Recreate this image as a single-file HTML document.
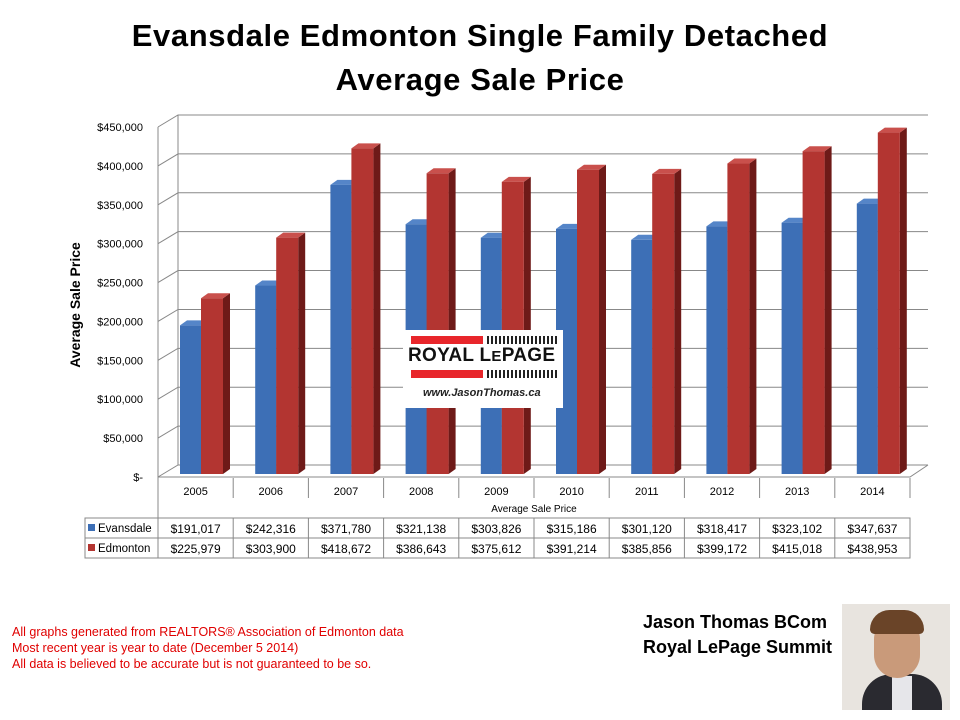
<!DOCTYPE html>
<html><head><meta charset="utf-8"><style>
body{margin:0;width:960px;height:720px;background:#fff;overflow:hidden;font-family:"Liberation Sans",sans-serif;position:relative}
.t{position:absolute;left:0;width:960px;text-align:center;font-weight:bold;font-size:31px;color:#000;letter-spacing:0.6px}
.note{position:absolute;left:12px;top:624px;color:#e00000;font-size:12.5px;line-height:16px}
.sig{position:absolute;left:643px;top:610px;font-weight:bold;font-size:18px;line-height:25px}
</style></head><body>
<div class="t" style="top:18px">Evansdale Edmonton Single Family Detached</div>
<div class="t" style="top:62px">Average Sale Price</div>
<svg id="c" width="960" height="720" style="position:absolute;left:0;top:0"></svg>
<div style="position:absolute;left:403px;top:330px;width:160px;height:78px;background:#fff;white-space:nowrap">
<div style="position:absolute;left:8px;top:6px;width:72px;height:8px;background:#e8262b"></div>
<div style="position:absolute;left:84px;top:6px;width:70px;height:8px;background:repeating-linear-gradient(90deg,#222 0 2px,#fff 2px 4px)"></div>
<div style="position:absolute;left:5px;top:15px;font-weight:bold;font-size:19px;color:#111;letter-spacing:0.3px">ROYAL L<span style="font-size:15px">E</span>PAGE</div>
<div style="position:absolute;left:8px;top:40px;width:72px;height:8px;background:#e8262b"></div>
<div style="position:absolute;left:84px;top:40px;width:70px;height:8px;background:repeating-linear-gradient(90deg,#222 0 2px,#fff 2px 4px)"></div>
<div style="position:absolute;left:20px;top:57px;font-style:italic;font-weight:bold;font-size:11px;color:#222">www.JasonThomas.ca</div>
</div>
<div class="note">All graphs generated from REALTORS® Association of Edmonton data<br>Most recent year is year to date (December 5 2014)<br>All data is believed to be accurate but is not guaranteed to be so.</div>
<div class="sig">Jason Thomas BCom<br>Royal LePage Summit</div>
<div style="position:absolute;left:842px;top:604px;width:108px;height:106px;background:#e8e4df;overflow:hidden">
<div style="position:absolute;left:20px;top:70px;width:80px;height:50px;background:#2a2a30;border-radius:30px 30px 0 0"></div>
<div style="position:absolute;left:50px;top:72px;width:20px;height:40px;background:#e6e6ea"></div>
<div style="position:absolute;left:32px;top:14px;width:46px;height:60px;background:#c99a7a;border-radius:22px 22px 24px 24px"></div>
<div style="position:absolute;left:28px;top:6px;width:54px;height:24px;background:#6a4428;border-radius:26px 26px 6px 6px"></div>
</div>
<script>
const years=["2005","2006","2007","2008","2009","2010","2011","2012","2013","2014"];
const evansdale=[191017,242316,371780,321138,303826,315186,301120,318417,323102,347637];
const edmonton=[225979,303900,418672,386643,375612,391214,385856,399172,415018,438953];
const ticks=[0,50000,100000,150000,200000,250000,300000,350000,400000,450000];
const tickLabels=["$-","$50,000","$100,000","$150,000","$200,000","$250,000","$300,000","$350,000","$400,000","$450,000"];
const svg=document.getElementById('c');const NS='http://www.w3.org/2000/svg';
function el(t,a,p){const e=document.createElementNS(NS,t);for(const k in a)e.setAttribute(k,a[k]);(p||svg).appendChild(e);return e}
const x0=158,cw=75.2,base=474,DX=20,DY=12;
const y=v=>base-v*350/450000;
const fmt=v=>'$'+v.toLocaleString('en-US');
for(let i=0;i<ticks.length;i++){const yy=y(ticks[i])+3;
 const g=el('polyline',{points:`${x0},${yy} ${x0+DX},${yy-DY} ${928},${yy-DY}`,fill:'none',stroke:'#888','stroke-width':1});
 
 const t=el('text',{x:143,y:yy+4,'text-anchor':'end','font-size':11,fill:'#000'});t.textContent=tickLabels[i];
 }
el('line',{x1:x0,y1:y(450000)+3,x2:x0,y2:520,stroke:'#888'});
el('line',{x1:x0+DX,y1:y(450000)+3-DY,x2:x0+DX,y2:y(0)+3-DY,stroke:'#888'});
el('polyline',{points:`${x0},${y(0)+3} 910,${y(0)+3} 928,${y(0)+3-DY}`,fill:'none',stroke:'#888'});
const yt=el('text',{x:0,y:0,transform:'translate(80,305) rotate(-90)','text-anchor':'middle','font-size':14,'font-weight':'bold'});yt.textContent='Average Sale Price';

function bar(xl,w,v,c,side,top){const yt=y(v);
 el('polygon',{points:`${xl+w},${yt} ${xl+w+7},${yt-5} ${xl+w+7},${base-5} ${xl+w},${base}`,fill:side});
 el('polygon',{points:`${xl},${yt} ${xl+7},${yt-5} ${xl+w+7},${yt-5} ${xl+w},${yt}`,fill:top});
 const r=el('rect',{x:xl,y:yt,width:w,height:base-yt,fill:c});return r;}
years.forEach((yr,i)=>{const cx=x0+cw*i;
 const b1=bar(cx+22,21,evansdale[i],'#3d6fb6','#274f8a','#5585c8');
 
 const b2=bar(cx+43,22,edmonton[i],'#b33531','#6e1a18','#c9504c');
 
 el('line',{x1:cx+cw,y1:478,x2:cx+cw,y2:498,stroke:'#888'});
 const t=el('text',{x:cx+cw/2,y:495,'text-anchor':'middle','font-size':11});t.textContent=yr;
 
 [evansdale,edmonton].forEach((arr,r)=>{const v=el('text',{x:cx+cw/2,y:533+r*20,'text-anchor':'middle','font-size':12});v.textContent=fmt(arr[i]);
  });
});
const at=el('text',{x:534,y:512,'text-anchor':'middle','font-size':10});at.textContent='Average Sale Price';
el('rect',{x:85,y:518,width:x0+cw*10-85,height:40,fill:'none',stroke:'#888'});
el('line',{x1:85,y1:538,x2:x0+cw*10,y2:538,stroke:'#888'});
for(let i=0;i<=10;i++)el('line',{x1:x0+cw*i,y1:518,x2:x0+cw*i,y2:558,stroke:'#888'});
[['Evansdale','#3d6fb6'],['Edmonton','#b33531']].forEach((s,r)=>{
 el('rect',{x:88,y:524+r*20,width:7,height:7,fill:s[1]});
 const t=el('text',{x:98,y:532+r*20,'font-size':11.5});t.textContent=s[0];
 });
</script>
</body></html>
